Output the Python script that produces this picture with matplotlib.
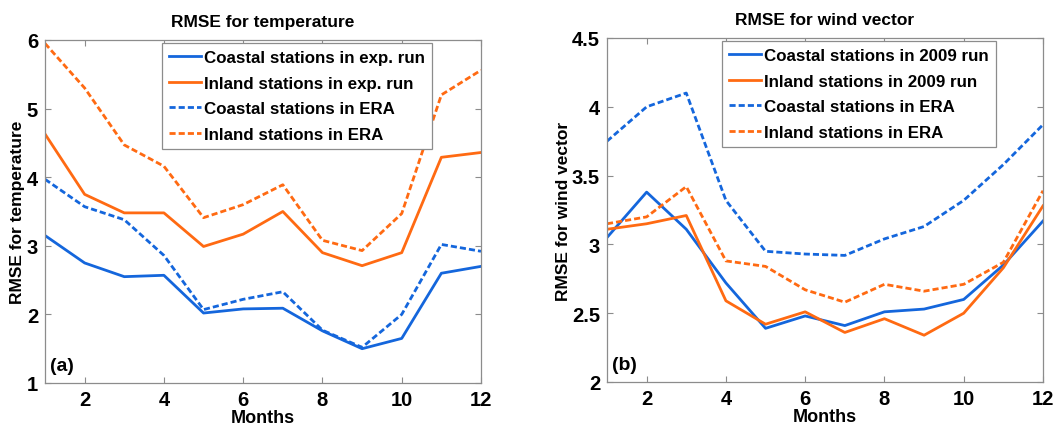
import matplotlib
matplotlib.use("Agg")
import matplotlib.pyplot as plt

plt.rcParams["font.family"] = ["Liberation Sans", "DejaVu Sans"]
plt.rcParams["font.weight"] = "bold"

months = list(range(1, 13))

# RMSE for temperature
temp_coastal_exp = [3.15, 2.75, 2.55, 2.57, 2.02, 2.08, 2.09, 1.76, 1.50, 1.65, 2.60, 2.70]
temp_inland_exp = [4.63, 3.75, 3.48, 3.48, 2.99, 3.17, 3.50, 2.90, 2.71, 2.90, 4.29, 4.36]
temp_coastal_era = [3.97, 3.57, 3.38, 2.86, 2.07, 2.22, 2.33, 1.77, 1.52, 2.00, 3.02, 2.92]
temp_inland_era = [5.95, 5.30, 4.47, 4.16, 3.41, 3.60, 3.89, 3.08, 2.93, 3.47, 5.20, 5.56]

# RMSE for wind vector
wind_coastal_2009 = [3.05, 3.38, 3.11, 2.72, 2.39, 2.48, 2.41, 2.51, 2.53, 2.60, 2.85, 3.17]
wind_inland_2009 = [3.11, 3.15, 3.21, 2.59, 2.42, 2.51, 2.36, 2.46, 2.34, 2.50, 2.83, 3.28]
wind_coastal_era = [3.75, 4.00, 4.10, 3.32, 2.95, 2.93, 2.92, 3.04, 3.13, 3.32, 3.58, 3.87]
wind_inland_era = [3.15, 3.20, 3.42, 2.88, 2.84, 2.67, 2.58, 2.71, 2.66, 2.71, 2.87, 3.39]

BLUE = "#1466dc"
ORANGE = "#ff6a12"
GRAY = "#8c8c8c"
DASH = (2.2, 1.1)


def style_axes(ax, ylim, yticks, title, ylabel, tag, leg_x):
    ax.set_xlim(1, 12)
    ax.set_ylim(*ylim)
    ax.set_xticks([2, 4, 6, 8, 10, 12])
    ax.set_yticks(yticks)
    ax.set_yticklabels([f"{t:g}" for t in yticks])
    ax.tick_params(direction="in", length=4, color=GRAY, labelsize=14.5, pad=5)
    for lab in ax.get_xticklabels() + ax.get_yticklabels():
        lab.set_fontweight("bold")
    for sp in ax.spines.values():
        sp.set_color(GRAY)
        sp.set_linewidth(0.9)
    ax.tick_params(top=True, right=True)
    ax.set_title(title, fontsize=12.5, fontweight="bold", pad=10)
    ax.set_xlabel("Months", fontsize=13, fontweight="bold", labelpad=0)
    ax.set_ylabel(ylabel, fontsize=12.5, fontweight="bold", labelpad=1)
    ax.text(0.012, 0.025, tag, transform=ax.transAxes, fontsize=14,
            fontweight="bold", ha="left", va="bottom")
    leg = ax.legend(loc="upper left", bbox_to_anchor=(leg_x, 0.99),
                    fontsize=12.2, handlelength=1.9, handletextpad=0.2,
                    borderpad=0.4, labelspacing=0.62, fancybox=False,
                    framealpha=1, borderaxespad=0)
    leg.get_frame().set_edgecolor(GRAY)
    leg.get_frame().set_linewidth(0.9)
    for t in leg.get_texts():
        t.set_fontweight("bold")


fig = plt.figure(figsize=(10.53, 4.27), dpi=100)
ax1 = fig.add_axes([45 / 1053, 43 / 427, 436 / 1053, 343 / 427])
ax2 = fig.add_axes([607 / 1053, 44 / 427, 436 / 1053, 344 / 427])

lw = 2.0
ax1.plot(months, temp_coastal_exp, color=BLUE, lw=lw, label="Coastal stations in exp. run")
ax1.plot(months, temp_inland_exp, color=ORANGE, lw=lw, label="Inland stations in exp. run")
ax1.plot(months, temp_coastal_era, color=BLUE, lw=lw, dashes=DASH, label="Coastal stations in ERA")
ax1.plot(months, temp_inland_era, color=ORANGE, lw=lw, dashes=DASH, label="Inland stations in ERA")
style_axes(ax1, (1, 6), [1, 2, 3, 4, 5, 6], "RMSE for temperature",
           "RMSE for temperature", "(a)", 0.268)

ax2.plot(months, wind_coastal_2009, color=BLUE, lw=lw, label="Coastal stations in 2009 run")
ax2.plot(months, wind_inland_2009, color=ORANGE, lw=lw, label="Inland stations in 2009 run")
ax2.plot(months, wind_coastal_era, color=BLUE, lw=lw, dashes=DASH, label="Coastal stations in ERA")
ax2.plot(months, wind_inland_era, color=ORANGE, lw=lw, dashes=DASH, label="Inland stations in ERA")
style_axes(ax2, (2, 4.5), [2, 2.5, 3, 3.5, 4, 4.5], "RMSE for wind vector",
           "RMSE for wind vector", "(b)", 0.264)

fig.savefig("out.png", dpi=100)
